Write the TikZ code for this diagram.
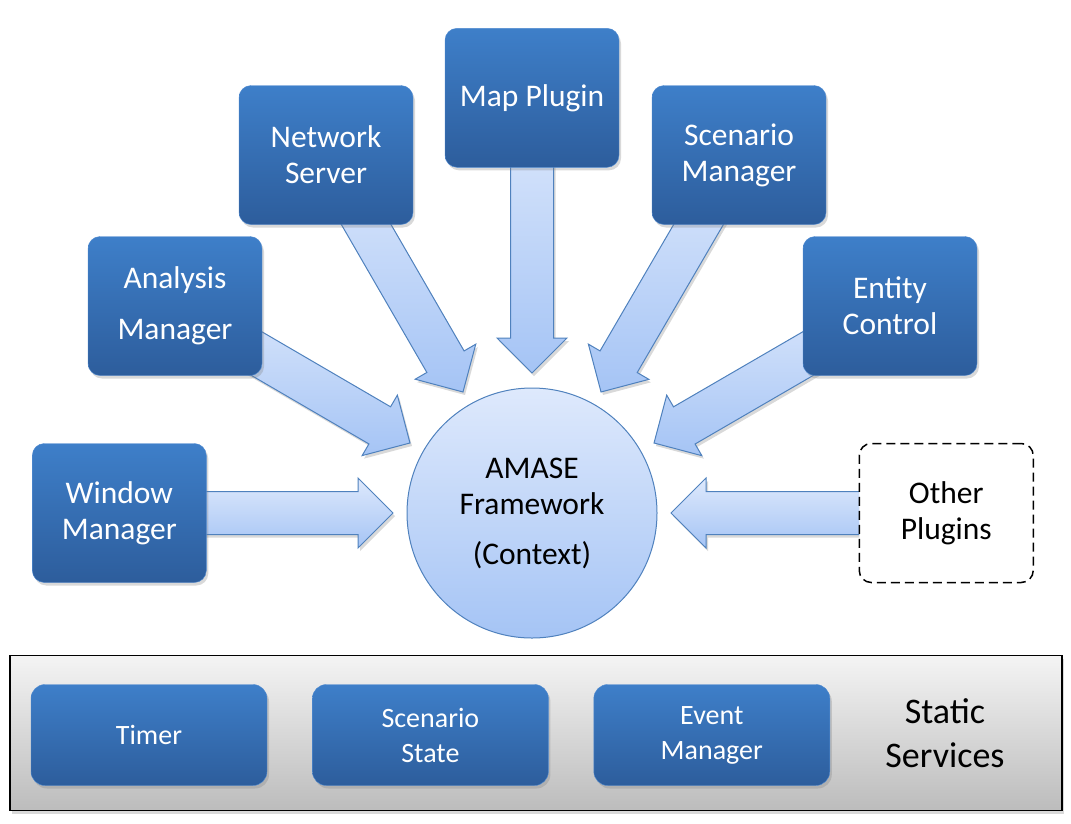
\documentclass[tikz,border=0pt]{standalone}
\usepackage{fontspec}
\setmainfont{Carlito}
\usetikzlibrary{positioning,shadows}

\definecolor{boxtop}{RGB}{62,127,201}
\definecolor{boxbot}{RGB}{45,93,156}
\definecolor{boxline}{RGB}{80,138,208}
\definecolor{arrtop}{RGB}{222,233,252}
\definecolor{arrbot}{RGB}{165,196,245}
\definecolor{arrline}{RGB}{79,129,189}
\definecolor{pantop}{RGB}{244,244,244}
\definecolor{panbot}{RGB}{188,188,188}

\pgfdeclarelayer{back}
\pgfsetlayers{back,main}

% block arrow from a node centre to a tip coordinate
\newcommand{\fatarrow}[2]{%
  \pgfpointdiff{\pgfpointanchor{#1}{center}}{\pgfpointanchor{#2}{center}}%
  \pgfgetlastxy{\dx}{\dy}%
  \pgfmathsetmacro{\arang}{atan2(\dy,\dx)}%
  \pgfmathsetlengthmacro{\arlen}{veclen(\dx,\dy)-35pt}%
  \begin{scope}[shift={(#1.center)}, rotate=\arang]
    \draw[fat] (0pt,-21.5pt) -- (\arlen,-21.5pt) -- (\arlen,-35pt) -- ({\arlen+35pt},0pt)
      -- (\arlen,35pt) -- (\arlen,21.5pt) -- (0pt,21.5pt) -- cycle;
  \end{scope}}

\begin{document}
\begin{tikzpicture}[x=1pt, y=-1pt,
    shade/.style = {drop shadow={shadow xshift=2pt, shadow yshift=-3pt, opacity=0.3}},
    main/.style = {rectangle, rounded corners=12pt, draw=boxline, top color=boxtop, bottom color=boxbot,
                   text=white, align=center, inner sep=0pt, minimum width=174pt, minimum height=139pt,
                   font=\fontsize{31.5}{36}\selectfont, shade},
    small/.style = {main, rounded corners=14pt, minimum width=236pt, minimum height=101pt,
                    font=\fontsize{28}{35}\selectfont},
    hub/.style = {circle, draw=arrline, line width=1pt, top color=arrtop, bottom color=arrbot, minimum size=250pt,
                  inner sep=0pt, align=center, font=\fontsize{31.5}{36}\selectfont},
    other/.style = {rectangle, rounded corners=12pt, draw=black, line width=1.5pt, dash pattern=on 9pt off 5pt,
                    fill=white, align=center, inner sep=0pt, minimum width=174pt, minimum height=139pt,
                    font=\fontsize{31.5}{36}\selectfont},
    panel/.style = {rectangle, draw=black, line width=1.5pt, top color=pantop, bottom color=panbot,
                    minimum width=1052pt, minimum height=155pt, shade},
    fat/.style = {draw=arrline, line width=1pt, top color=arrtop, bottom color=arrbot, shade}]

    \useasboundingbox (0,0) rectangle (1071,823);

    \node[hub] (1) at (532,513) {AMASE\\Framework\\[14pt](Context)};
    \node[main] (2) [left=200pt of 1] {Window\\Manager};
    \node[main] (3) at (175,306) {Analysis\\[15pt]Manager};
    \node[main] (4) at (326,155) {Network\\Server};
    \node[main] (5) [above=220pt of 1] {Map Plugin};
    \node[main] (6) at (739,155) {Scenario\\Manager};
    \node[main] (7) at (890,306) {Entity\\Control};
    \node[other] (8) [right=201pt of 1] {Other\\Plugins};

    \coordinate (t2) at (393,513);
    \coordinate (t3) at (410,443);
    \coordinate (t4) at (463,392);
    \coordinate (t5) at (532,373);
    \coordinate (t6) at (601,392);
    \coordinate (t7) at (654,443);
    \coordinate (t8) at (671,513);

    \begin{pgfonlayer}{back}
        \fatarrow{2}{t2}
        \fatarrow{3}{t3}
        \fatarrow{4}{t4}
        \fatarrow{5}{t5}
        \fatarrow{6}{t6}
        \fatarrow{7}{t7}
        \fatarrow{8}{t8}
    \end{pgfonlayer}

    % static services
    \node[panel] (9) at (536,733) {};
    \node[small] (10) at (149,735) {Timer};
    \node[small] (11) [right=45pt of 10] {Scenario\\State};
    \node[small] (12) [right=45pt of 11] {Event\\Manager};
    \node[align=center, font=\fontsize{36}{44}\selectfont] (13) at (945,733) {Static\\Services};

\end{tikzpicture}
\end{document}
